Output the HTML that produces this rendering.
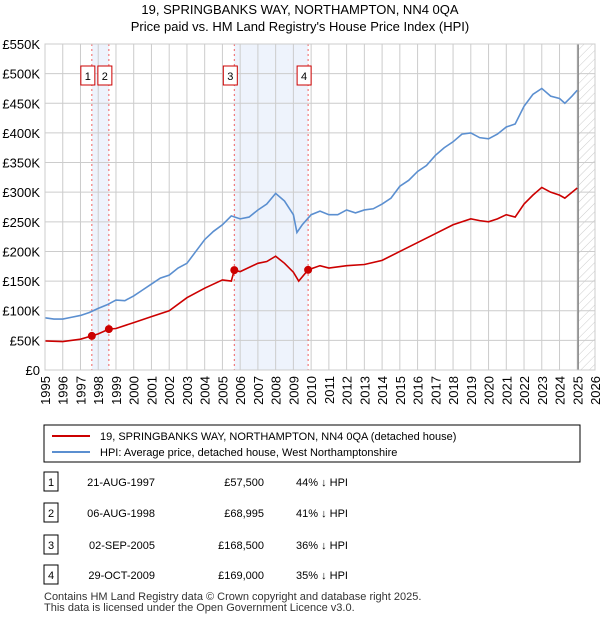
<!DOCTYPE html>
<html><head><meta charset="utf-8"><style>
body{margin:0;background:#fff;font-family:"Liberation Sans","DejaVu Sans",sans-serif;}
svg text{font-family:"Liberation Sans","DejaVu Sans",sans-serif;}
</style></head><body>
<svg id="chart" width="600" height="620" xmlns="http://www.w3.org/2000/svg">
<defs><pattern id="hatch" width="6" height="6" patternUnits="userSpaceOnUse" patternTransform="rotate(45)"><line x1="0" y1="0" x2="0" y2="6" stroke="#ccc" stroke-width="1"/></pattern></defs>
<text x="300" y="14" text-anchor="middle" font-size="13">19, SPRINGBANKS WAY, NORTHAMPTON, NN4 0QA</text>
<text x="300" y="31" text-anchor="middle" font-size="13">Price paid vs. HM Land Registry's House Price Index (HPI)</text>
<g id="plot"></g>
<g>
<rect x="44" y="425" width="536" height="37" fill="#fff" stroke="#000"/>
<line x1="52" y1="436" x2="90" y2="436" stroke="#cc0000" stroke-width="2"/>
<text x="100" y="440" font-size="11">19, SPRINGBANKS WAY, NORTHAMPTON, NN4 0QA (detached house)</text>
<line x1="52" y1="452" x2="90" y2="452" stroke="#5b8fd0" stroke-width="2"/>
<text x="100" y="456" font-size="11">HPI: Average price, detached house, West Northamptonshire</text>
</g>
<g id="table" font-size="11"></g>
<text x="44" y="600" font-size="11" fill="#333">Contains HM Land Registry data © Crown copyright and database right 2025.</text>
<text x="44" y="611" font-size="11" fill="#333">This data is licensed under the Open Government Licence v3.0.</text>
</svg>
<script>
const hpiYears=[1995,1995.5,1996,1996.5,1997,1997.5,1998,1998.5,1999,1999.5,2000,2000.5,2001,2001.5,2002,2002.5,2003,2003.5,2004,2004.5,2005,2005.5,2006,2006.5,2007,2007.5,2008,2008.5,2009,2009.2,2009.5,2010,2010.5,2011,2011.5,2012,2012.5,2013,2013.5,2014,2014.5,2015,2015.5,2016,2016.5,2017,2017.5,2018,2018.5,2019,2019.5,2020,2020.5,2021,2021.5,2022,2022.5,2023,2023.5,2024,2024.3,2024.7,2025];
const hpiValues=[88,86,86,89,92,97,104,110,118,117,125,135,145,155,160,172,180,200,220,234,245,260,255,258,270,280,298,285,262,232,245,262,268,262,262,270,265,270,272,280,290,310,320,335,345,362,375,385,398,400,392,390,398,410,415,445,465,475,462,458,450,462,472];
const propYears=[1995,1996,1997,1997.64,1998,1998.6,1999,2000,2001,2002,2003,2004,2005,2005.5,2005.67,2006,2007,2007.5,2008,2008.5,2009,2009.3,2009.83,2010.5,2011,2012,2013,2014,2015,2016,2017,2018,2019,2019.5,2020,2020.5,2021,2021.5,2022,2022.5,2023,2023.5,2024,2024.3,2025];
const propValues=[49,48,52,57.5,61,69,70,80,90,100,122,138,152,150,168.5,166,180,183,192,180,165,150,169,176,172,176,178,185,200,215,230,245,255,252,250,255,262,258,280,295,308,300,295,290,307];
const saleYears=[1997.64,1998.6,2005.67,2009.83];
const saleValues=[57.5,68.995,168.5,169];
const saleLabels=["1","2","3","4"];
const saleDates=["21-AUG-1997","06-AUG-1998","02-SEP-2005","29-OCT-2009"];
const salePrices=["£57,500","£68,995","£168,500","£169,000"];
const saleHpi=["44% ↓ HPI","41% ↓ HPI","36% ↓ HPI","35% ↓ HPI"];
const yTicks=[0,50,100,150,200,250,300,350,400,450,500,550];
const yTickLabels=["£0","£50K","£100K","£150K","£200K","£250K","£300K","£350K","£400K","£450K","£500K","£550K"];
const xTicks=[1995,1996,1997,1998,1999,2000,2001,2002,2003,2004,2005,2006,2007,2008,2009,2010,2011,2012,2013,2014,2015,2016,2017,2018,2019,2020,2021,2022,2023,2024,2025,2026];

const L=45,R=595,T=44,B=370;
const xs=y=>L+(y-1995)/(2026-1995)*(R-L);
const ys=v=>B-v/550*(B-T);
const NS="http://www.w3.org/2000/svg";
function mk(tag,attrs,parent,txt){const e=document.createElementNS(NS,tag);for(const k in attrs)e.setAttribute(k,attrs[k]);if(txt!==undefined)e.textContent=txt;parent.appendChild(e);return e;}
const g=document.getElementById('plot');
// bands
let b=mk('rect',{x:xs(saleYears[0]),y:T,width:xs(saleYears[1])-xs(saleYears[0]),height:B-T,fill:'#eef3fc'},g);


b=mk('rect',{x:xs(saleYears[2]),y:T,width:xs(saleYears[3])-xs(saleYears[2]),height:B-T,fill:'#eef3fc'},g);


b=mk('rect',{x:xs(2025.05),y:T,width:R-xs(2025.05),height:B-T,fill:'url(#hatch)'},g);


// grid
yTicks.forEach((v,i)=>{
 let l=mk('line',{x1:L,x2:R,y1:ys(v),y2:ys(v),stroke:'#ccc'},g);
 
 
 let t=mk('text',{x:L-5,y:ys(v)+5,'text-anchor':'end','font-size':13},g,yTickLabels[i]);
 
 
});
xTicks.forEach(y=>{
 let l=mk('line',{x1:xs(y),x2:xs(y),y1:T,y2:B,stroke:'#ccc'},g);
 
 
 let t=mk('text',{x:0,y:0,'text-anchor':'end','font-size':13,transform:`translate(${xs(y)+5},${B+6}) rotate(-90)`},g,String(y));
 
 
});
let vl=mk('line',{x1:xs(2025.05),x2:xs(2025.05),y1:T,y2:B,stroke:'#888','stroke-width':1.5},g);


// sale lines
saleYears.forEach((y,i)=>{
 let l=mk('line',{x1:xs(y),x2:xs(y),y1:T,y2:B,stroke:'#f06060','stroke-dasharray':'2,3'},g);
 
 
});
// series
let p=mk('polyline',{points:hpiYears.map((y,i)=>xs(y)+','+ys(hpiValues[i])).join(' '),fill:'none',stroke:'#5b8fd0','stroke-width':1.6},g);


p=mk('polyline',{points:propYears.map((y,i)=>xs(y)+','+ys(propValues[i])).join(' '),fill:'none',stroke:'#cc0000','stroke-width':1.6},g);


saleYears.forEach((y,i)=>{
 let c=mk('circle',{cx:xs(y),cy:ys(saleValues[i]),r:4,fill:'#cc0000'},g);
 
 
 let r=mk('rect',{x:xs(y)-11,y:66,width:14,height:19,fill:'#fff',stroke:'#cc0000'},g);
 
 
 let t=mk('text',{x:xs(y)-4,y:80,'text-anchor':'middle','font-size':11},g,saleLabels[i]);
 
 
});
let fr=mk('rect',{x:L,y:T,width:R-L,height:B-T,fill:'none',stroke:'#ccc'},g);


// table
const tb=document.getElementById('table');
const rowY=[482,513,545,575];
saleLabels.forEach((s,i)=>{
 const y=rowY[i];
 let r=mk('rect',{x:44,y:y-10,width:14,height:19,fill:'#fff',stroke:'#000'},tb);
 
 
 let t=mk('text',{x:51,y:y+4,'text-anchor':'middle'},tb,s);
 
 
 t=mk('text',{x:155,y:y+4,'text-anchor':'end'},tb,saleDates[i]);
 
 
 t=mk('text',{x:264,y:y+4,'text-anchor':'end'},tb,salePrices[i]);
 
 
 t=mk('text',{x:296,y:y+4},tb,saleHpi[i]);
 
 
});
</script>
</body></html>
